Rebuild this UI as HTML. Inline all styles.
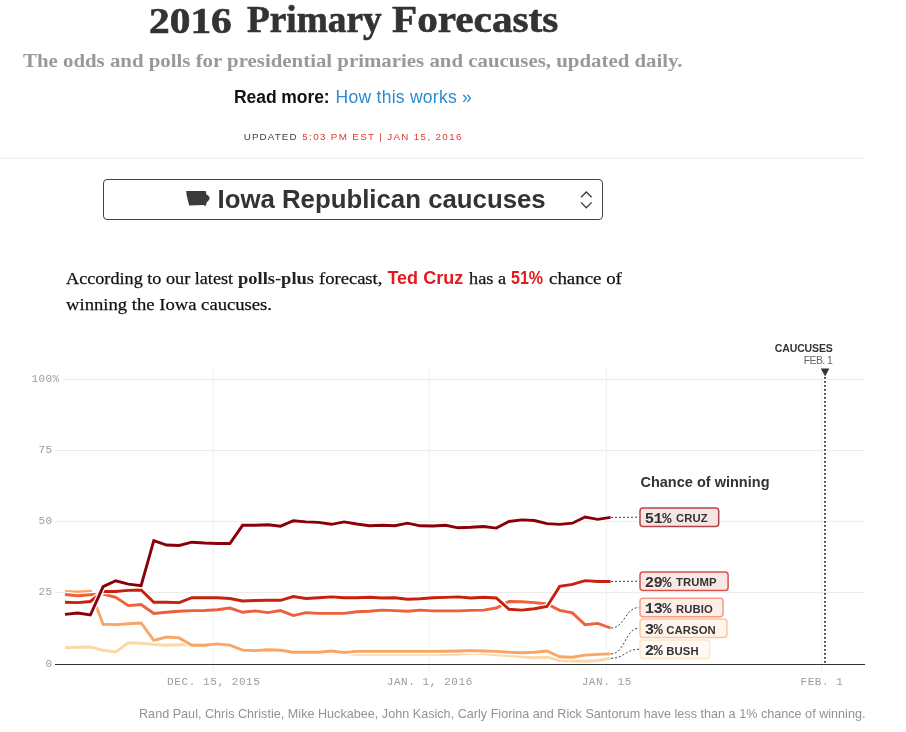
<!DOCTYPE html>
<html><head><meta charset="utf-8"><title>2016 Primary Forecasts</title>
<style>
html,body{margin:0;padding:0;background:#fff;}
body{width:906px;height:732px;position:relative;overflow:hidden;font-family:"Liberation Sans",sans-serif;}
.abs{position:absolute;white-space:nowrap;margin:0;padding:0;text-decoration:none;}
h1,p{margin:0;padding:0;font-size:inherit;font-weight:inherit;}
#ti1{left:148.5px;top:-2.5px;font-family:"Liberation Serif",serif;font-weight:bold;font-size:35.5px;line-height:46px;color:#333;transform-origin:0 0;transform:scaleX(1.1662);}
#ti2{left:246.8px;top:-4.7px;font-family:"Liberation Serif",serif;font-weight:bold;font-size:37.5px;line-height:49px;color:#333;transform-origin:0 0;transform:scaleX(0.9951);}
#ti3{left:391.5px;top:-4.7px;font-family:"Liberation Serif",serif;font-weight:bold;font-size:37.5px;line-height:49px;color:#333;transform-origin:0 0;transform:scaleX(1.0988);}
#sub{left:23.4px;top:48.0px;font-family:"Liberation Serif",serif;font-weight:bold;font-size:19px;line-height:25px;color:#999;transform-origin:0 0;transform:scaleX(1.0973);}
#rm1{left:234.0px;top:85.6px;font-family:"Liberation Sans",sans-serif;font-weight:bold;font-size:17.5px;line-height:23px;color:#111;letter-spacing:-0.065px;}
#rm2{left:335.6px;top:85.6px;font-family:"Liberation Sans",sans-serif;font-weight:normal;font-size:17.5px;line-height:23px;color:#2a8bd0;letter-spacing:0.262px;}
#up1{left:243.8px;top:130.0px;font-family:"Liberation Sans",sans-serif;font-weight:normal;font-size:9.8px;line-height:13px;color:#444;letter-spacing:1.101px;}
#up2{left:302.3px;top:130.0px;font-family:"Liberation Sans",sans-serif;font-weight:normal;font-size:9.8px;line-height:13px;color:#de3a2c;letter-spacing:1.346px;}
#seltxt{left:217.5px;top:181.5px;font-family:"Liberation Sans",sans-serif;font-weight:bold;font-size:25.8px;line-height:34px;color:#333;letter-spacing:-0.005px;}
#pa{left:65.9px;top:267.2px;font-family:"Liberation Serif",serif;font-weight:normal;font-size:17.6px;line-height:23px;color:#111;transform-origin:0 0;transform:scaleX(1.0332);}
#pb{left:238.0px;top:267.2px;font-family:"Liberation Serif",serif;font-weight:bold;font-size:17.6px;line-height:23px;color:#222;transform-origin:0 0;transform:scaleX(1.0501);}
#pc{left:318.6px;top:267.2px;font-family:"Liberation Serif",serif;font-weight:normal;font-size:17.6px;line-height:23px;color:#111;transform-origin:0 0;transform:scaleX(1.0553);}
#pd{left:387.4px;top:266.7px;font-family:"Liberation Sans",sans-serif;font-weight:bold;font-size:18px;line-height:23px;color:#e8161e;letter-spacing:0.018px;}
#pe{left:468.5px;top:267.2px;font-family:"Liberation Serif",serif;font-weight:normal;font-size:17.6px;line-height:23px;color:#111;transform-origin:0 0;transform:scaleX(1.0400);}
#pf{left:510.5px;top:266.7px;font-family:"Liberation Sans",sans-serif;font-weight:bold;font-size:18px;line-height:23px;color:#e8161e;transform-origin:0 0;transform:scaleX(0.8909);}
#pg{left:548.6px;top:267.2px;font-family:"Liberation Serif",serif;font-weight:normal;font-size:17.6px;line-height:23px;color:#111;transform-origin:0 0;transform:scaleX(1.0738);}
#ph{left:65.9px;top:293.3px;font-family:"Liberation Serif",serif;font-weight:normal;font-size:17.6px;line-height:23px;color:#111;transform-origin:0 0;transform:scaleX(1.0594);}
#foot{left:139.0px;top:706.3px;font-family:"Liberation Sans",sans-serif;font-weight:normal;font-size:12.6px;line-height:16px;color:#929292;letter-spacing:0.016px;}

#ti1,#ti2,#ti3{-webkit-text-stroke:0.6px #333;}
#pa,#pc,#pe,#pg,#ph{-webkit-text-stroke:0.25px #111;}
#hrg{left:0;top:153px;width:864px;height:5px;background:linear-gradient(rgba(0,0,0,0),rgba(0,0,0,0.02));}
#hr{left:0;top:158px;width:864px;height:1px;background:#ebebeb;}
#sel{left:103px;top:179px;width:498px;height:39.2px;border:1px solid #444;border-radius:4px;box-sizing:content-box;}
svg{position:absolute;left:0;top:0;}
.ax{font-family:"Liberation Mono",monospace;font-size:11px;fill:#9c9c9c;letter-spacing:0.4px;}
.conn{fill:none;stroke:#444;stroke-width:1;stroke-dasharray:2 2;}
.pct{font-family:"Liberation Mono",monospace;font-weight:bold;font-size:15.5px;letter-spacing:-0.6px;fill:#333;}
.ps{font-size:13px;}
.nm{font-family:"Liberation Sans",sans-serif;font-weight:bold;font-size:11.3px;fill:#333;letter-spacing:0.1px;}
.cw{font-family:"Liberation Sans",sans-serif;font-weight:bold;font-size:14.5px;fill:#333;}
.cau{font-family:"Liberation Sans",sans-serif;font-weight:bold;font-size:10.5px;fill:#333;}
.feb{font-family:"Liberation Sans",sans-serif;font-size:10.5px;fill:#666;}
</style></head><body>
<div class="abs" id="hrg"></div>
<div class="abs" id="hr"></div>
<div class="abs" id="sel"></div>
<h1><span class="abs" id="ti1">2016</span>
<span class="abs" id="ti2">Primary</span>
<span class="abs" id="ti3">Forecasts</span></h1>
<h2 class="abs" id="sub">The odds and polls for presidential primaries and caucuses, updated daily.</h2>
<p><b class="abs" id="rm1">Read more:</b>
<a class="abs" id="rm2">How this works »</a></p>
<p><span class="abs" id="up1">UPDATED</span>
<span class="abs" id="up2">5:03 PM EST | JAN 15, 2016</span></p>
<span class="abs" id="seltxt">Iowa Republican caucuses</span>
<p><span class="abs" id="pa">According to our latest</span>
<b class="abs" id="pb">polls-plus</b>
<span class="abs" id="pc">forecast,</span>
<b class="abs" id="pd">Ted Cruz</b>
<span class="abs" id="pe">has a</span>
<b class="abs" id="pf">51%</b>
<span class="abs" id="pg">chance of</span>
<span class="abs" id="ph">winning the Iowa caucuses.</span></p>
<p class="abs" id="foot">Rand Paul, Chris Christie, Mike Huckabee, John Kasich, Carly Fiorina and Rick Santorum have less than a 1% chance of winning.</p>

<svg width="906" height="732" viewBox="0 0 906 732">
<path id="iowa" d="M186.2,191 L205.8,191 L206.4,194.4 L208.6,195.8 L209.8,198.2 L208.4,200.8 L206.6,202.4 L206.4,204 L205.4,206.3 L203.6,205 L189.2,205.6 L188.2,201.7 L186.6,195 Z" fill="#3a3a3a"/>
<path d="M581,197.2 L586.3,192 L591.6,197.2" fill="none" stroke="#3a3a3a" stroke-width="1.3"/>
<path d="M581,202.4 L586.3,207.8 L591.6,202.4" fill="none" stroke="#3a3a3a" stroke-width="1.3"/>
<line x1="63" x2="865" y1="379.4" y2="379.4" stroke="#ebebeb" stroke-width="1"/>
<line x1="55" x2="865" y1="450.6" y2="450.6" stroke="#ebebeb" stroke-width="1"/>
<line x1="55" x2="865" y1="521.4" y2="521.4" stroke="#ebebeb" stroke-width="1"/>
<line x1="55" x2="865" y1="592.6" y2="592.6" stroke="#ebebeb" stroke-width="1"/>
<line x1="213.3" x2="213.3" y1="367" y2="672" stroke="#eeeeee" stroke-width="1"/>
<line x1="429.3" x2="429.3" y1="367" y2="672" stroke="#eeeeee" stroke-width="1"/>
<line x1="606.3" x2="606.3" y1="367" y2="672" stroke="#eeeeee" stroke-width="1"/>
<line x1="821.5" x2="821.5" y1="367" y2="672" stroke="#eeeeee" stroke-width="1"/>

<line x1="55" x2="865" y1="664.45" y2="664.45" stroke="#333" stroke-width="1.15"/>
<text class="ax" x="52.4" y="382.2" text-anchor="end">100</text>
<text class="ax" x="52.4" y="453.4" text-anchor="end">75</text>
<text class="ax" x="52.4" y="524.2" text-anchor="end">50</text>
<text class="ax" x="52.4" y="595.4" text-anchor="end">25</text>
<text class="ax" x="52.4" y="667.1" text-anchor="end">0</text>
<text class="ax" x="52.4" y="382.2" text-anchor="start">%</text>
<text class="ax" x="213.8" y="685.2" text-anchor="middle" style="letter-spacing:0.58px">DEC. 15, 2015</text>
<text class="ax" x="429.8" y="685.2" text-anchor="middle" style="letter-spacing:0.58px">JAN. 1, 2016</text>
<text class="ax" x="606.8" y="685.2" text-anchor="middle" style="letter-spacing:0.58px">JAN. 15</text>
<text class="ax" x="822.0" y="685.2" text-anchor="middle" style="letter-spacing:0.58px">FEB. 1</text>

<line x1="825" x2="825" y1="377" y2="664" stroke="#333" stroke-width="1.8" stroke-dasharray="1.8 2.2"/>
<path d="M820.8,368.6 L829.4,368.6 L825.1,376.6 Z" fill="#333"/>
<text id="cau" class="cau" x="832.8" y="352" text-anchor="end" textLength="58">CAUCUSES</text>
<text id="feb" class="feb" x="832.8" y="364" text-anchor="end" textLength="29">FEB. 1</text>
<path d="M65.0,647.8 L77.7,647.3 L90.4,647.0 L103.1,650.3 L115.7,652.0 L128.4,642.8 L141.1,643.3 L153.8,644.5 L166.5,645.3 L179.2,644.8 L191.9,644.5 L204.5,645.6 L217.2,645.5 L229.9,646.3 L242.6,651.0 L255.3,651.5 L268.0,651.0 L280.6,651.5 L293.3,653.0 L306.0,653.0 L318.7,653.0 L331.4,652.5 L344.1,653.5 L356.8,654.2 L369.4,654.2 L382.1,654.2 L394.8,654.2 L407.5,654.2 L420.2,654.2 L432.9,654.2 L445.6,654.2 L458.2,654.2 L470.9,653.0 L483.6,653.9 L496.3,654.7 L509.0,655.5 L521.7,656.9 L534.3,657.7 L547.0,657.2 L559.7,660.5 L572.4,661.0 L585.1,661.3 L597.8,660.5 L610.5,658.3" fill="none" stroke="#fff" stroke-width="5.5" stroke-linejoin="round"/>
<path d="M65.0,647.8 L77.7,647.3 L90.4,647.0 L103.1,650.3 L115.7,652.0 L128.4,642.8 L141.1,643.3 L153.8,644.5 L166.5,645.3 L179.2,644.8 L191.9,644.5 L204.5,645.6 L217.2,645.5 L229.9,646.3 L242.6,651.0 L255.3,651.5 L268.0,651.0 L280.6,651.5 L293.3,653.0 L306.0,653.0 L318.7,653.0 L331.4,652.5 L344.1,653.5 L356.8,654.2 L369.4,654.2 L382.1,654.2 L394.8,654.2 L407.5,654.2 L420.2,654.2 L432.9,654.2 L445.6,654.2 L458.2,654.2 L470.9,653.0 L483.6,653.9 L496.3,654.7 L509.0,655.5 L521.7,656.9 L534.3,657.7 L547.0,657.2 L559.7,660.5 L572.4,661.0 L585.1,661.3 L597.8,660.5 L610.5,658.3" fill="none" stroke="#fdd7a5" stroke-width="2.9" stroke-linejoin="miter"/>
<path d="M65.0,591.5 L77.7,591.9 L90.4,591.2 L103.1,624.3 L115.7,624.6 L128.4,623.8 L141.1,623.0 L153.8,640.4 L166.5,637.0 L179.2,637.9 L191.9,645.2 L204.5,645.2 L217.2,643.9 L229.9,645.1 L242.6,650.1 L255.3,650.6 L268.0,649.7 L280.6,650.2 L293.3,652.2 L306.0,652.2 L318.7,652.2 L331.4,651.0 L344.1,652.5 L356.8,651.4 L369.4,651.4 L382.1,651.4 L394.8,651.4 L407.5,651.4 L420.2,651.4 L432.9,651.4 L445.6,651.2 L458.2,651.0 L470.9,650.6 L483.6,651.0 L496.3,651.4 L509.0,652.2 L521.7,652.7 L534.3,652.2 L547.0,651.0 L559.7,656.7 L572.4,657.3 L585.1,655.1 L597.8,654.4 L610.5,653.9" fill="none" stroke="#fff" stroke-width="5.5" stroke-linejoin="round"/>
<path d="M65.0,591.5 L77.7,591.9 L90.4,591.2 L103.1,624.3 L115.7,624.6 L128.4,623.8 L141.1,623.0 L153.8,640.4 L166.5,637.0 L179.2,637.9 L191.9,645.2 L204.5,645.2 L217.2,643.9 L229.9,645.1 L242.6,650.1 L255.3,650.6 L268.0,649.7 L280.6,650.2 L293.3,652.2 L306.0,652.2 L318.7,652.2 L331.4,651.0 L344.1,652.5 L356.8,651.4 L369.4,651.4 L382.1,651.4 L394.8,651.4 L407.5,651.4 L420.2,651.4 L432.9,651.4 L445.6,651.2 L458.2,651.0 L470.9,650.6 L483.6,651.0 L496.3,651.4 L509.0,652.2 L521.7,652.7 L534.3,652.2 L547.0,651.0 L559.7,656.7 L572.4,657.3 L585.1,655.1 L597.8,654.4 L610.5,653.9" fill="none" stroke="#f9a566" stroke-width="2.9" stroke-linejoin="miter"/>
<path d="M65.0,594.5 L77.7,595.7 L90.4,594.8 L103.1,594.0 L115.7,597.3 L128.4,605.6 L141.1,604.5 L153.8,613.4 L166.5,612.3 L179.2,611.3 L191.9,610.6 L204.5,610.5 L217.2,609.8 L229.9,608.1 L242.6,612.3 L255.3,610.9 L268.0,612.6 L280.6,610.6 L293.3,615.6 L306.0,612.6 L318.7,613.4 L331.4,613.4 L344.1,613.4 L356.8,611.8 L369.4,611.3 L382.1,610.1 L394.8,610.6 L407.5,611.3 L420.2,610.1 L432.9,610.9 L445.6,610.9 L458.2,610.9 L470.9,610.4 L483.6,610.1 L496.3,608.0 L509.0,601.5 L521.7,601.8 L534.3,602.6 L547.0,604.0 L559.7,610.4 L572.4,612.9 L585.1,624.7 L597.8,623.4 L610.5,628.0" fill="none" stroke="#fff" stroke-width="5.5" stroke-linejoin="round"/>
<path d="M65.0,594.5 L77.7,595.7 L90.4,594.8 L103.1,594.0 L115.7,597.3 L128.4,605.6 L141.1,604.5 L153.8,613.4 L166.5,612.3 L179.2,611.3 L191.9,610.6 L204.5,610.5 L217.2,609.8 L229.9,608.1 L242.6,612.3 L255.3,610.9 L268.0,612.6 L280.6,610.6 L293.3,615.6 L306.0,612.6 L318.7,613.4 L331.4,613.4 L344.1,613.4 L356.8,611.8 L369.4,611.3 L382.1,610.1 L394.8,610.6 L407.5,611.3 L420.2,610.1 L432.9,610.9 L445.6,610.9 L458.2,610.9 L470.9,610.4 L483.6,610.1 L496.3,608.0 L509.0,601.5 L521.7,601.8 L534.3,602.6 L547.0,604.0 L559.7,610.4 L572.4,612.9 L585.1,624.7 L597.8,623.4 L610.5,628.0" fill="none" stroke="#ee5f3b" stroke-width="2.9" stroke-linejoin="miter"/>
<path d="M65.0,602.3 L77.7,602.6 L90.4,601.5 L103.1,591.5 L115.7,591.5 L128.4,590.4 L141.1,590.0 L153.8,602.2 L166.5,602.3 L179.2,602.6 L191.9,597.7 L204.5,597.7 L217.2,597.7 L229.9,598.5 L242.6,601.0 L255.3,600.5 L268.0,600.2 L280.6,600.3 L293.3,596.5 L306.0,598.5 L318.7,597.7 L331.4,596.9 L344.1,597.7 L356.8,597.7 L369.4,597.2 L382.1,598.0 L394.8,597.7 L407.5,599.3 L420.2,598.8 L432.9,597.7 L445.6,597.4 L458.2,596.9 L470.9,598.0 L483.6,597.2 L496.3,598.0 L509.0,609.3 L521.7,610.1 L534.3,608.8 L547.0,606.5 L559.7,586.4 L572.4,584.4 L585.1,580.6 L597.8,581.5 L610.5,581.5" fill="none" stroke="#fff" stroke-width="5.5" stroke-linejoin="round"/>
<path d="M65.0,602.3 L77.7,602.6 L90.4,601.5 L103.1,591.5 L115.7,591.5 L128.4,590.4 L141.1,590.0 L153.8,602.2 L166.5,602.3 L179.2,602.6 L191.9,597.7 L204.5,597.7 L217.2,597.7 L229.9,598.5 L242.6,601.0 L255.3,600.5 L268.0,600.2 L280.6,600.3 L293.3,596.5 L306.0,598.5 L318.7,597.7 L331.4,596.9 L344.1,597.7 L356.8,597.7 L369.4,597.2 L382.1,598.0 L394.8,597.7 L407.5,599.3 L420.2,598.8 L432.9,597.7 L445.6,597.4 L458.2,596.9 L470.9,598.0 L483.6,597.2 L496.3,598.0 L509.0,609.3 L521.7,610.1 L534.3,608.8 L547.0,606.5 L559.7,586.4 L572.4,584.4 L585.1,580.6 L597.8,581.5 L610.5,581.5" fill="none" stroke="#c8200f" stroke-width="2.9" stroke-linejoin="miter"/>
<path d="M65.0,614.4 L77.7,613.0 L90.4,615.0 L103.1,586.6 L115.7,580.8 L128.4,584.1 L141.1,585.7 L153.8,540.6 L166.5,545.0 L179.2,545.5 L191.9,542.2 L204.5,543.0 L217.2,543.5 L229.9,543.5 L242.6,525.3 L255.3,525.3 L268.0,524.8 L280.6,526.2 L293.3,520.7 L306.0,521.9 L318.7,522.4 L331.4,524.3 L344.1,521.9 L356.8,524.0 L369.4,525.7 L382.1,525.3 L394.8,525.7 L407.5,523.2 L420.2,525.8 L432.9,526.0 L445.6,525.3 L458.2,527.8 L470.9,527.3 L483.6,526.5 L496.3,528.1 L509.0,521.5 L521.7,519.9 L534.3,520.5 L547.0,523.6 L559.7,524.4 L572.4,523.2 L585.1,517.0 L597.8,519.4 L610.5,517.4" fill="none" stroke="#fff" stroke-width="5.5" stroke-linejoin="round"/>
<path d="M65.0,614.4 L77.7,613.0 L90.4,615.0 L103.1,586.6 L115.7,580.8 L128.4,584.1 L141.1,585.7 L153.8,540.6 L166.5,545.0 L179.2,545.5 L191.9,542.2 L204.5,543.0 L217.2,543.5 L229.9,543.5 L242.6,525.3 L255.3,525.3 L268.0,524.8 L280.6,526.2 L293.3,520.7 L306.0,521.9 L318.7,522.4 L331.4,524.3 L344.1,521.9 L356.8,524.0 L369.4,525.7 L382.1,525.3 L394.8,525.7 L407.5,523.2 L420.2,525.8 L432.9,526.0 L445.6,525.3 L458.2,527.8 L470.9,527.3 L483.6,526.5 L496.3,528.1 L509.0,521.5 L521.7,519.9 L534.3,520.5 L547.0,523.6 L559.7,524.4 L572.4,523.2 L585.1,517.0 L597.8,519.4 L610.5,517.4" fill="none" stroke="#8a0008" stroke-width="2.9" stroke-linejoin="miter"/>
<path d="M611,517.4 L639,517.2" class="conn"/>
<path d="M611,581.5 L639,581.2" class="conn"/>
<path d="M611,628.0 C625,628.0 625,607.5 639,607.5" class="conn"/>
<path d="M611,653.9 C625,653.9 625,628.3 639,628.3" class="conn"/>
<path d="M611,658.3 C625,658.3 625,649.3 639,649.3" class="conn"/>
<rect x="640" y="508.0" width="78.7" height="18.4" rx="3" ry="3" fill="#f3e6e5" stroke="#b4444a" stroke-width="1.5"/>
<text class="pct" x="644.8" y="522.6">51%</text>
<text class="nm" x="676.0" y="522.4">CRUZ</text>
<rect x="640" y="572.0" width="88.1" height="18.4" rx="3" ry="3" fill="#f9e8e7" stroke="#d9524c" stroke-width="1.5"/>
<text class="pct" x="644.8" y="586.6">29%</text>
<text class="nm" x="676.0" y="586.4">TRUMP</text>
<rect x="640" y="598.3" width="83.1" height="18.4" rx="3" ry="3" fill="#fdeee9" stroke="#f49c86" stroke-width="1.5"/>
<text class="pct" x="644.8" y="612.9">13%</text>
<text class="nm" x="676.0" y="612.7">RUBIO</text>
<rect x="640" y="619.1" width="86.9" height="18.4" rx="3" ry="3" fill="#fef4ec" stroke="#fbc8a3" stroke-width="1.5"/>
<text class="pct" x="644.8" y="633.7">3%</text>
<text class="nm" x="666.3" y="633.5">CARSON</text>
<rect x="640" y="640.1" width="69.6" height="18.4" rx="3" ry="3" fill="#fffaf4" stroke="#fde6cb" stroke-width="1.5"/>
<text class="pct" x="644.8" y="654.7">2%</text>
<text class="nm" x="666.3" y="654.5">BUSH</text>

<text id="cw" class="cw" x="640.4" y="487" textLength="129.1">Chance of winning</text>
</svg>
</body></html>
